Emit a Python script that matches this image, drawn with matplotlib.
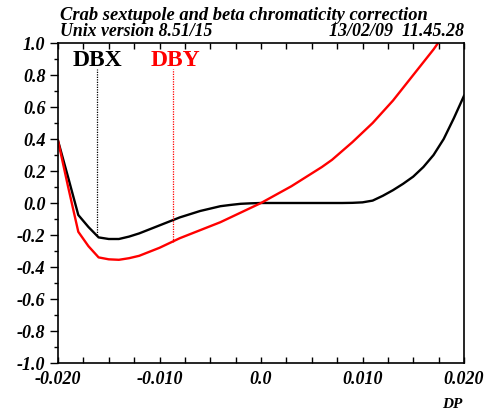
import matplotlib
matplotlib.use("Agg")
import matplotlib.pyplot as plt
import numpy as np

dp = [-0.020, -0.019, -0.018, -0.017, -0.016, -0.015, -0.014, -0.013, -0.012, -0.011,
      -0.010, -0.009, -0.008, -0.007, -0.006, -0.005, -0.004, -0.003, -0.002, -0.001,
      0.000, 0.001, 0.002, 0.003, 0.004, 0.005, 0.006, 0.007, 0.008, 0.009,
      0.010, 0.011, 0.012, 0.013, 0.014, 0.015, 0.016, 0.017, 0.018, 0.019, 0.020]
dbx = [0.39, 0.16, -0.075, -0.15, -0.215, -0.225, -0.225, -0.21, -0.19, -0.165,
       -0.14, -0.115, -0.09, -0.07, -0.05, -0.035, -0.02, -0.012, -0.005, -0.002,
       0.0, 0.0, 0.0, 0.0, 0.0, 0.0, 0.0, 0.0, 0.0, 0.001,
       0.004, 0.015, 0.045, 0.08, 0.12, 0.165, 0.225, 0.30, 0.40, 0.53, 0.67]
dby = [0.39, 0.10, -0.18, -0.27, -0.34, -0.352, -0.355, -0.345, -0.33, -0.305,
       -0.28, -0.25, -0.22, -0.195, -0.17, -0.145, -0.12, -0.09, -0.06, -0.03,
       0.0, 0.035, 0.07, 0.105, 0.145, 0.185, 0.225, 0.27, 0.325, 0.38,
       0.44, 0.50, 0.57, 0.64, 0.72, 0.80, 0.88, 0.96, 1.05, 1.15, 1.25]
marker_dbx = -0.0162
marker_dby = -0.0087
xticks = [-0.020, -0.010, 0.0, 0.010, 0.020]
xticklabels = ["-0.020", "-0.010", "0.0", "0.010", "0.020"]
yticks = [-1.0, -0.8, -0.6, -0.4, -0.2, 0.0, 0.2, 0.4, 0.6, 0.8, 1.0]
yticklabels = ["-1.0", "-0.8", "-0.6", "-0.4", "-0.2", "0.0", "0.2", "0.4", "0.6", "0.8", "1.0"]

serif = "Liberation Serif"
fig = plt.figure(figsize=(4.91, 4.12), dpi=100)
ax = fig.add_axes([58/491, 1-363/412, 406/491, 320/412])

ax.plot(dp, dbx, color="black", lw=1.7, clip_on=True)
ax.plot(dp, dby, color="red", lw=1.7, clip_on=True)
ax.set_xlim(-0.02, 0.02)
ax.set_ylim(-1.0, 1.0)

# marker lines
ybx = np.interp(marker_dbx, dp, dbx)
yby = np.interp(marker_dby, dp, dby)
ax.plot([marker_dbx, marker_dbx], [ybx, 0.84], color="black", lw=0.9, ls=(0, (1, 1)))
ax.plot([marker_dby, marker_dby], [yby, 0.84], color="red", lw=0.9, ls=(0, (1, 1)))
ax.text(0.037, 0.945, "DBX", transform=ax.transAxes, fontsize=17, fontweight="bold",
        family=serif, color="black", va="center", ha="left")
ax.text(0.227, 0.945, "DBY", transform=ax.transAxes, fontsize=17, fontweight="bold",
        family=serif, color="red", va="center", ha="left")

ax.set_xticks(xticks)
ax.set_xticklabels(xticklabels)
ax.set_xticks(np.arange(-0.02, 0.0201, 0.0025), minor=True)
ax.set_yticks(yticks)
ax.set_yticklabels(yticklabels)
ax.set_yticks(np.arange(-1.0, 1.001, 0.1), minor=True)
ax.tick_params(axis="x", which="both", direction="in", top=True, bottom=True, length=4, width=1,
               pad=6)
ax.tick_params(axis="y", which="major", direction="out", left=True, right=False, length=6, width=1, pad=3)
ax.tick_params(axis="y", which="minor", direction="out", left=True, right=False, length=3, width=1)
for lab in ax.get_xticklabels() + ax.get_yticklabels():
    lab.set_family(serif)
    lab.set_fontstyle("italic")
    lab.set_fontweight("bold")
    lab.set_fontsize(13)
for s in ax.spines.values():
    s.set_linewidth(1.2)

fig.text(60/491, 1-15/412, "Crab sextupole and beta chromaticity correction", family=serif,
         fontstyle="italic", fontweight="bold", fontsize=13.3, ha="left", va="center")
fig.text(60/491, 1-32/412, "Unix version 8.51/15", family=serif,
         fontstyle="italic", fontweight="bold", fontsize=12.8, ha="left", va="center")
fig.text(464/491, 1-32/412, "13/02/09  11.45.28", family=serif,
         fontstyle="italic", fontweight="bold", fontsize=13, ha="right", va="center")
fig.text(452/491, 1-405/412, "DP", family=serif, fontstyle="italic", fontweight="bold",
         fontsize=11, ha="center", va="center")

fig.savefig("out.png", dpi=100)
